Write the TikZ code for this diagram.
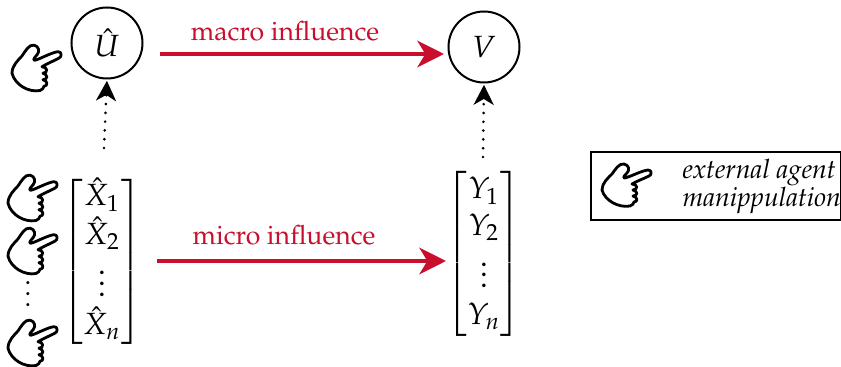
\documentclass[tikz,border=0pt]{standalone}
\usepackage[T1]{fontenc}
\usepackage{amsmath,amssymb}
\usepackage{mathpazo}
\usepackage{tikz}
\usetikzlibrary{arrows.meta,positioning}
\definecolor{infred}{HTML}{C8102E}
\newcommand{\mathfnt}{\fontsize{11.5}{13.9}\selectfont}
\tikzset{
  vtx/.style     = {circle, draw=black, line width=0.75pt, fill=white,
                    minimum size=71*0.375pt, inner sep=0pt, font=\mathfnt},
  vecn/.style    = {inner sep=0pt, font=\mathfnt},
  infarr/.style  = {draw=infred, line width=1.4pt, -{Stealth[length=10pt,width=10pt,inset=3pt]}},
  obsarr/.style  = {draw=black, line width=1.1pt, line cap=round, dash pattern=on 0pt off 3.3pt,
                    -{Stealth[length=7.5pt,width=7.5pt,inset=2.2pt]}, shorten >=0.5pt},
  inflab/.style  = {text=infred, inner sep=0pt},
  legbox/.style  = {draw=black, line width=0.75pt, minimum width=250*0.375pt,
                    minimum height=68*0.375pt, inner sep=0pt},
  hand/.pic = {
    \draw[line width=1.05pt, line cap=round, line join=round, fill=white]
      (3,19) .. controls (-8,21) and (-22,14) .. (-25,3)
      .. controls (-25,-4) and (-19,-9) .. (-15,-13)
      .. controls (-12,-17) and (-8,-24) .. (-3,-23)
      .. controls (2,-22) and (3,-17) .. (0,-14)
      .. controls (-2,-12) and (-5,-9) .. (-2,-9)
      .. controls (5,-11) and (14,-16) .. (21,-17)
      .. controls (25,-17) and (25,-12) .. (22,-11)
      .. controls (16,-8) and (10,-6) .. (5,-3)
      .. controls (11,-3) and (11,3) .. (6,3)
      .. controls (11,4) and (11,9) .. (6,9)
      .. controls (11,10) and (11,15) .. (7,15)
      .. controls (7,17) and (5,18) .. (3,19)
      -- cycle;
  },
}
\begin{document}
\begin{tikzpicture}[x=0.375pt,y=-0.375pt]
  \useasboundingbox (0,0) rectangle (841,367);
  % causes and effects
  \node[vtx] (u) at (107,43) {$\hat{U}$};
  \node[vtx] (v) at (484,47) {$V$};
  \node[vecn] (xvec) at (102,262) {$\begin{bmatrix} \hat{X}_1\\ \hat{X}_2\\ \vdots\\ \hat{X}_n \end{bmatrix}$};
  \node[vecn] (yvec) at (484,254) {$\begin{bmatrix} Y_1\\ Y_2\\ \vdots\\ Y_n \end{bmatrix}$};
  \coordinate (macroa) at (160,54);
  \coordinate (macrob) at (444,54);
  \coordinate (microa) at (157,261);
  \coordinate (microb) at (446,261);
  \coordinate (xtop) at (104,148);
  \coordinate (ytop) at (483,157);
  % influence arrows
  \draw[infarr] (macroa) -- (macrob);
  \draw[infarr] (microa) -- (microb);
  \node[inflab] (macrolab) at (285,31) {macro influence};
  \node[inflab] (microlab) at (284,235) {micro influence};
  \draw[obsarr] (xtop) -- (u.south);
  \draw[obsarr] (ytop) -- (v.south);
  % agents
  \pic[yscale=1.08] at (37,70) {hand};
  \pic[yscale=1.08] at (33,200) {hand};
  \pic[yscale=1.08] at (33,253) {hand};
  \node[inner sep=0pt] (hdots) at (28,286) {$\vdots$};
  \pic[yscale=1.08] at (33,345) {hand};
  % legend
  \node[legbox, anchor=north west] (leg) at (590,151) {};
  \pic at (627,187) {hand};
  \node[anchor=west, align=left, inner sep=0pt, font=\itshape] (legtxt) at (682,187)
    {external agent\\[-1.5pt] manippulation};
\end{tikzpicture}
\end{document}
